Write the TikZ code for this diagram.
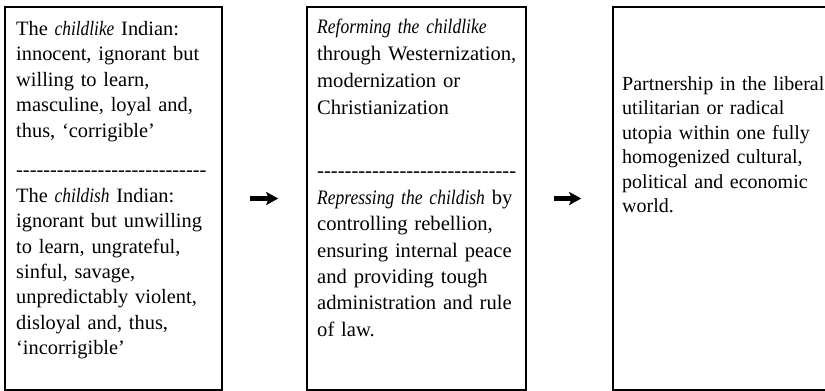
\documentclass[tikz,border=0pt]{standalone}
\usepackage{fontspec}
\setmainfont{Liberation Serif}[ItalicFeatures={FakeStretch=0.85}]
\usepackage{tikz}
\usetikzlibrary{calc}
\usetikzlibrary{arrows.meta, positioning}
\tikzset{>=stealth}
\newcommand{\dashrow}[1]{\foreach \k in {1,...,#1}{-\kern0pt}}

\begin{document}
\begin{tikzpicture}[x=1pt, y=-1pt,
    box/.style={draw, line width=1.6pt, inner sep=0pt, minimum height=383pt},
    txt/.style={anchor=base west, inner sep=0pt, text width=240pt, align=left},
    arr/.style={line width=4.2pt, -{Stealth[length=12pt, width=13pt, inset=2.5pt]}}]
  \useasboundingbox (0,0) rectangle (825,391);
  \clip (0,0) rectangle (825,391);
          % the three stages
          \node[box, minimum width=217pt] (b1) at (113.5,198.5) {};
          \node[box, minimum width=219pt] (b2) at (416.5,198.5) {};
          \node[box, minimum width=215pt] (b3) at (720.5,198.5) {};
          % first box
          \node[txt, font=\fontsize{20.4}{25.4}\selectfont] (t1a) at (16,35.5) {The \textit{childlike} Indian:\\innocent, ignorant but\\willing to learn,\\masculine, loyal and,\\thus, ‘corrigible’};
          \node[txt, font=\fontsize{20.4}{25.3}\selectfont] (d1) at (16,176.7) {\dashrow{28}};
          \node[txt, font=\fontsize{20.4}{25.3}\selectfont] (t1b) at (16,202.5) {The \textit{childish} Indian:\\ignorant but unwilling\\to learn, ungrateful,\\sinful, savage,\\unpredictably violent,\\disloyal and, thus,\\‘incorrigible’};
          % second box
          \node[txt, font=\fontsize{20.6}{27}\selectfont] (t2a) at (317,33.5) {\textit{Reforming the childlike}\\through Westernization,\\modernization or\\Christianization};
          \node[txt, font=\fontsize{20.6}{27}\selectfont] (d2) at (317,177) {\dashrow{29}};
          \node[txt, font=\fontsize{20.6}{26.3}\selectfont] (t2b) at (317,204.5) {\textit{Repressing the childish} by\\controlling rebellion,\\ensuring internal peace\\and providing tough\\administration and rule\\of law.};
          % third box
          \node[txt, font=\fontsize{20}{24.4}\selectfont] (t3) at (622,90.5) {Partnership in the liberal\\utilitarian or radical\\utopia within one fully\\homogenized cultural,\\political and economic\\world.};
          % arrows between them
          \draw[arr, shorten <=27pt, shorten >=28pt] (b1.east) -- (b2.west);
          \draw[arr, shorten <=27pt, shorten >=31pt] (b2.east) -- (b3.west);
        \end{tikzpicture}
\end{document}
